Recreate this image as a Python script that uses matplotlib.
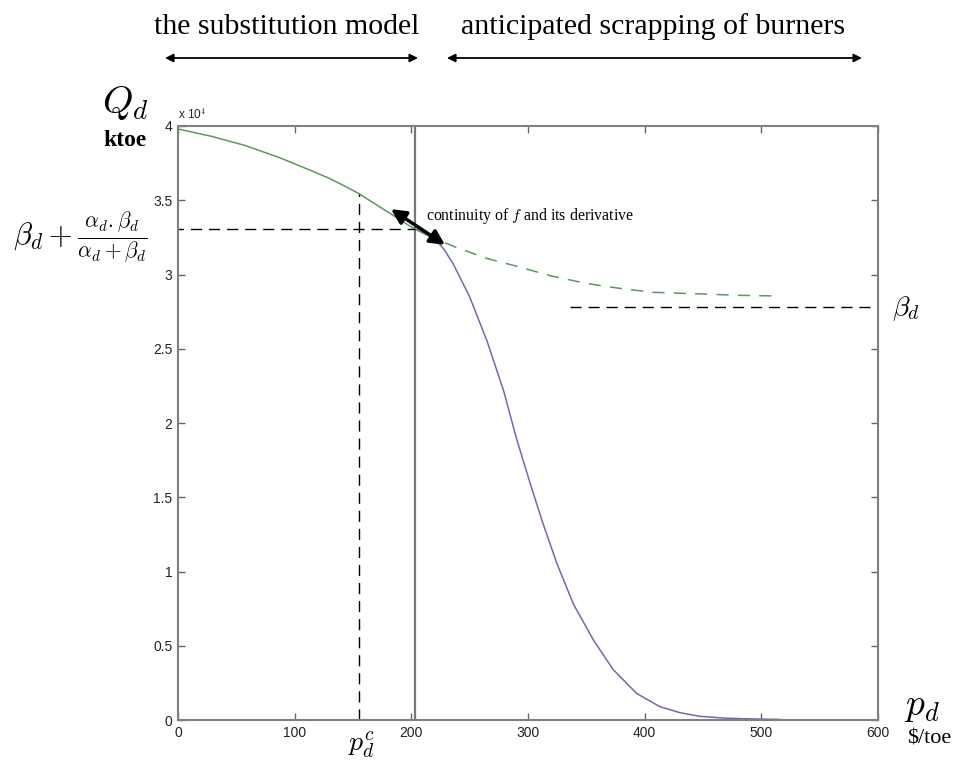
import matplotlib.pyplot as plt
import numpy as np

plt.rcParams['mathtext.fontset'] = 'cm'

# demand (units of 1e4 ktoe) vs price ($/toe)
subst_p = [0, 29, 57, 86, 114, 129, 143, 155, 171, 186, 200, 212]
subst_q = [3.98, 3.93, 3.87, 3.79, 3.70, 3.65, 3.595, 3.545, 3.465, 3.39, 3.32, 3.27]

subst_ext_p = [212, 236, 264, 293, 320, 350, 380, 407, 445, 480, 516]
subst_ext_q = [3.27, 3.19, 3.11, 3.05, 2.99, 2.94, 2.905, 2.88, 2.87, 2.86, 2.855]

scrap_p = [203, 211, 219, 228, 236, 250, 265, 279, 290, 302, 313, 325, 339,
           356, 373, 393, 413, 430, 447, 470, 495, 516]
scrap_q = [3.31, 3.28, 3.25, 3.17, 3.07, 2.85, 2.55, 2.22, 1.90, 1.59, 1.32, 1.05, 0.78,
           0.54, 0.34, 0.18, 0.09, 0.05, 0.025, 0.012, 0.007, 0.004]

p_switch = 203      # switch between the two models
p_c = 155
q_c = 3.545
q_join = 3.305
beta_d = 2.78

xticks = [0, 100, 200, 300, 400, 500, 600]
yticks = [0, 0.5, 1, 1.5, 2, 2.5, 3, 3.5, 4]

fig = plt.figure(figsize=(9.59, 7.65), dpi=100)
ax = fig.add_axes([0.1856, 0.0588, 0.7299, 0.7765])

green = '#5b9a5b'
blue = '#6b6bb8'
dash = (0, (8, 5))

ax.plot(subst_p, subst_q, color=green, lw=1.1)
ax.plot(subst_ext_p, subst_ext_q, color=green, lw=1.1, linestyle=(0, (8, 6)))
ax.plot(scrap_p, scrap_q, color=blue, lw=1.1)

ax.axvline(p_switch, color='#777777', lw=1.6)
ax.plot([p_c, p_c], [0, q_c], color='black', lw=1, linestyle=dash)
ax.plot([0, p_switch], [q_join, q_join], color='black', lw=1, linestyle=(4, (8, 5)))
ax.plot([336, 600], [beta_d, beta_d], color='black', lw=1, linestyle=dash)

ax.annotate('', xy=(182.6, 3.44), xytext=(228.9, 3.20),
            arrowprops=dict(arrowstyle='<|-|>', color='black', lw=2.5, mutation_scale=22,
                            shrinkA=0, shrinkB=0))
ax.text(213, 3.395, 'continuity of $f$ and its derivative', fontsize=11.4,
        family='Liberation Serif', va='center', ha='left')

ax.set_xlim(0, 600)
ax.set_ylim(0, 4)
ax.set_xticks(xticks)
ax.set_yticks(yticks)
ax.set_xticklabels([str(t) for t in xticks])
ax.set_yticklabels(['%g' % t for t in yticks])
ax.tick_params(direction='in', length=5, width=1, colors='#666666', labelcolor='#222222',
               labelsize=10, top=True, right=True, pad=4)
for lab in ax.get_xticklabels() + ax.get_yticklabels():
    lab.set_family('Liberation Sans')
for s in ax.spines.values():
    s.set_color('#808080')
    s.set_linewidth(1.5)

ax.text(0, 4.03, r'x 10$^4$', fontsize=8.5, family='Liberation Sans', color='#222222',
        va='bottom', ha='left')

# labels around the axes
fig.text(125 / 959, 1 - 103 / 765, r'$Q_d$', fontsize=28, ha='center', va='center')
fig.text(125 / 959, 1 - 140 / 765, 'ktoe', fontsize=17, family='Liberation Serif',
         weight='bold', ha='center', va='center')
fig.text(80 / 959, 1 - 238 / 765, r'$\beta_d+\frac{\alpha_d.\beta_d}{\alpha_d+\beta_d}$',
         fontsize=22, ha='center', va='center')
fig.text(906 / 959, 1 - 309 / 765, r'$\beta_d$', fontsize=20, ha='center', va='center')
fig.text(922 / 959, 1 - 706 / 765, r'$p_d$', fontsize=27, ha='center', va='center')
fig.text(929 / 959, 1 - 739 / 765, '$/toe', fontsize=16, family='Liberation Serif',
         ha='center', va='center')
fig.text(361 / 959, 1 - 745 / 765, r'$p_d^c$', fontsize=20, ha='center', va='center')

fig.text(287 / 959, 1 - 27 / 765, 'the substitution model', fontsize=21.5,
         family='Liberation Serif', ha='center', va='center')
fig.text(653 / 959, 1 - 27 / 765, 'anticipated scrapping of burners', fontsize=21.5,
         family='Liberation Serif', ha='center', va='center')
arr = dict(arrowstyle='<|-|>', color='black', lw=1.3, mutation_scale=12, shrinkA=0, shrinkB=0)
ax.annotate('', xy=(165 / 959, 1 - 58 / 765), xytext=(418 / 959, 1 - 58 / 765),
            xycoords='figure fraction', textcoords='figure fraction', arrowprops=arr)
ax.annotate('', xy=(447 / 959, 1 - 58 / 765), xytext=(862 / 959, 1 - 58 / 765),
            xycoords='figure fraction', textcoords='figure fraction', arrowprops=arr)

fig.savefig('out.png', dpi=100)
